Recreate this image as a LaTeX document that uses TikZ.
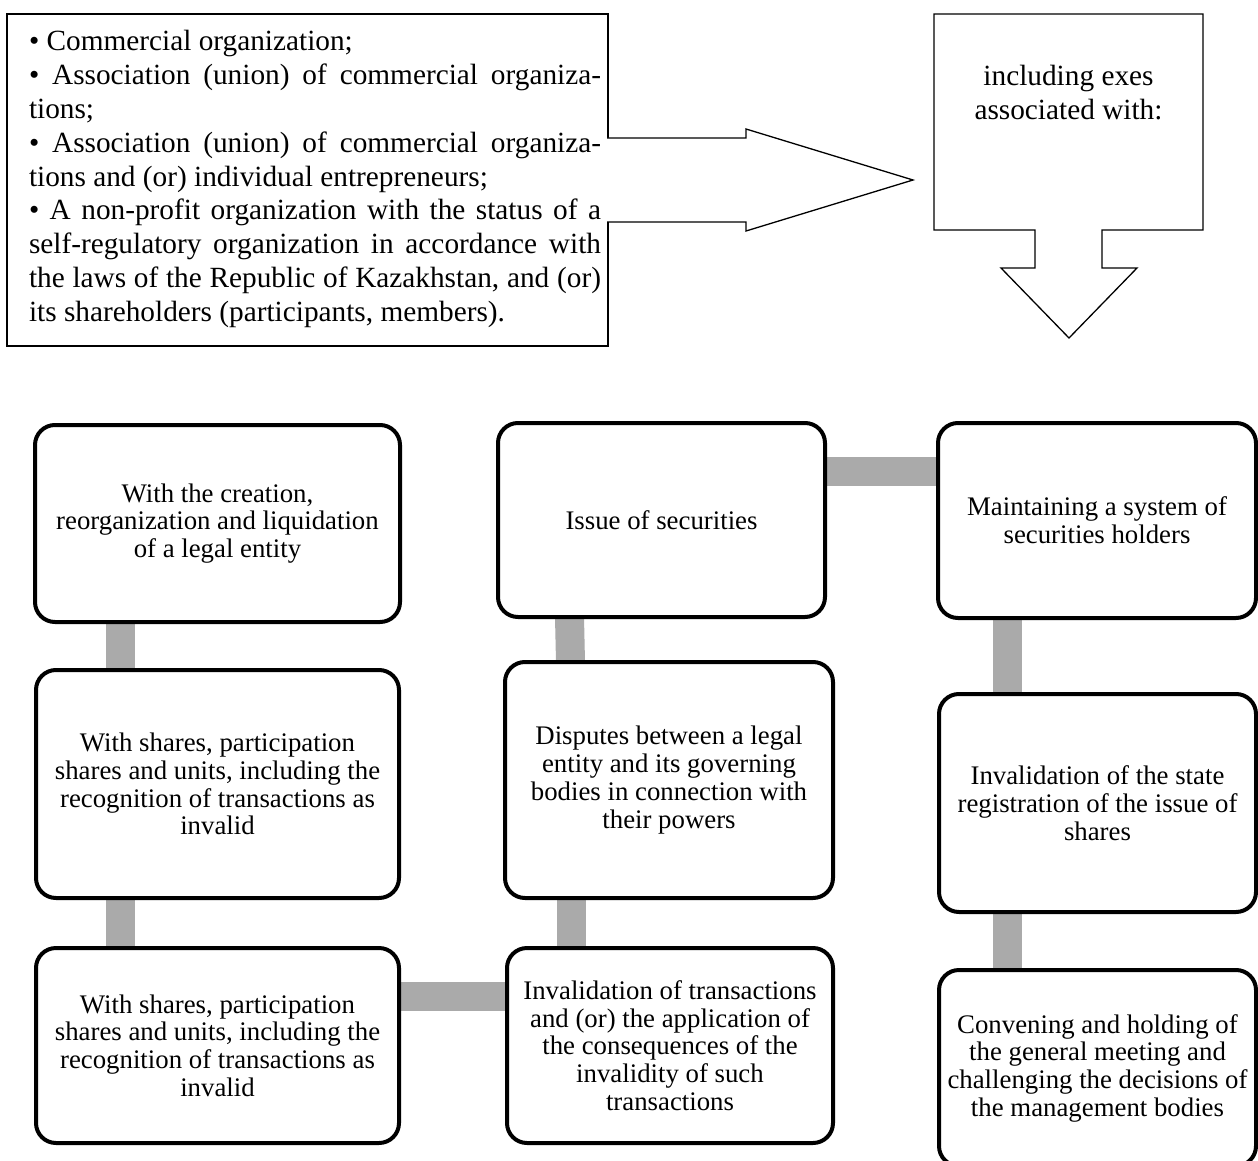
\documentclass[tikz,border=0pt]{standalone}
\usepackage{fontspec}
\setmainfont{Liberation Serif}
\definecolor{bargray}{RGB}{170,170,170}
\pgfdeclarelayer{paper}
\pgfdeclarelayer{bg}
\pgfsetlayers{paper,bg,main}
\begin{document}
\begin{tikzpicture}[x=1pt,y=-1pt,
  rbox/.style={draw, line width=4pt, rounded corners=20pt, fill=white, align=center,
    inner sep=0pt, outer sep=0pt, font=\fontsize{26.8}{27.7}\selectfont},
  bar/.style={draw=bargray, line width=29pt},
  thinshape/.style={draw, line width=1.3pt, fill=white},
  bigtext/.style={inner sep=0pt, outer sep=0pt, font=\fontsize{29.3}{33.8}\selectfont}]
\useasboundingbox (0,0) rectangle (1258,1161);
\begin{pgfonlayer}{paper}
\fill[white] (0,0) rectangle (1258,1161);
\end{pgfonlayer}
\clip (0,0) rectangle (1258,1161);

% ---------- top left list box ----------
\node[thinshape, minimum width=601pt, minimum height=332pt, inner sep=0pt, outer sep=0pt] (src) at (307.5,180) {};
\node[bigtext, anchor=base west] (srctxt) at (29,51) {\parbox[t]{572pt}{\parindent=0pt\emergencystretch=10pt
• Commercial organization;\par
• Association (union) of commercial organiza-\linebreak tions;\par
• Association (union) of commercial organiza-\linebreak tions and (or) individual entrepreneurs;\par
• A non-profit organization with the status of a\linebreak self-regulatory organization in accordance with\linebreak the laws of the Republic of Kazakhstan, and (or)\linebreak its shareholders (participants, members).}};

% ---------- block arrow to the right ----------
\fill[white] (605,138) -- (746,138) -- (746,129) -- (913,180) -- (746,231) -- (746,222) -- (605,222) -- cycle;
\draw[line width=1.3pt, line join=miter] (607,138) -- (746,138) -- (746,129) -- (913,180) -- (746,231) -- (746,222) -- (607,222);

% ---------- callout box with down arrow ----------
\draw[thinshape, line join=miter] (934,14) -- (1203,14) -- (1203,230) -- (1102,230) -- (1102,268) -- (1137,268)
  -- (1069,338) -- (1001,268) -- (1035,268) -- (1035,230) -- (934,230) -- cycle;
\node[bigtext, anchor=base] (inc) at (1068.5,86) {\parbox[t]{260pt}{\centering including exes\\associated with:}};

% ---------- rounded boxes ----------
\node[rbox, minimum width=365pt, minimum height=197pt] (A) at (217.5,523.5)
  {With the creation,\\reorganization and liquidation\\of a legal entity};
\node[rbox, minimum width=327pt, minimum height=194pt] (B) at (661.5,520)
  {Issue of securities};
\node[rbox, minimum width=318pt, minimum height=195pt] (C) at (1097,520.5)
  {Maintaining a system of\\securities holders};
\node[rbox, minimum width=363pt, minimum height=228pt] (D) at (217.5,784)
  {With shares, participation\\shares and units, including the\\recognition of transactions as\\invalid};
\node[rbox, minimum width=328pt, minimum height=236pt] (E) at (669,780)
  {Disputes between a legal\\entity and its governing\\bodies in connection with\\their powers};
\node[rbox, minimum width=317pt, minimum height=218pt] (F) at (1097.5,803)
  {Invalidation of the state\\registration of the issue of\\shares};
\node[rbox, minimum width=363pt, minimum height=195pt] (G) at (217.5,1045.5)
  {With shares, participation\\shares and units, including the\\recognition of transactions as\\invalid};
\node[rbox, minimum width=326pt, minimum height=195pt] (H) at (670,1045.5)
  {Invalidation of transactions\\and (or) the application of\\the consequences of the\\invalidity of such\\transactions};
\node[rbox, minimum width=317pt, minimum height=196pt] (I) at (1097.5,1068)
  {Convening and holding of\\the general meeting and\\challenging the decisions of\\the management bodies};

% ---------- grey connector bars ----------
\begin{pgfonlayer}{bg}
\draw[bar] ([xshift=85.5pt]A.south west) -- ([xshift=84.5pt]D.north west);
\draw[bar] ([xshift=84.5pt]D.south west) -- ([xshift=84.5pt]G.north west);
\draw[bar] ([yshift=49pt]G.east) -- ([yshift=49pt]H.west);
\draw[bar] ([xshift=64.5pt]H.north west) -- ([xshift=66.5pt]E.south west);
\draw[bar] ([xshift=65.5pt]E.north west) -- ([xshift=71.5pt]B.south west);
\draw[bar] ([yshift=48.5pt]B.east) -- ([yshift=49pt]C.west);
\draw[bar] ([xshift=69.5pt]C.south west) -- ([xshift=68.5pt]F.north west);
\draw[bar] ([xshift=68.5pt]F.south west) -- ([xshift=68.5pt]I.north west);
\end{pgfonlayer}
\end{tikzpicture}
\end{document}
